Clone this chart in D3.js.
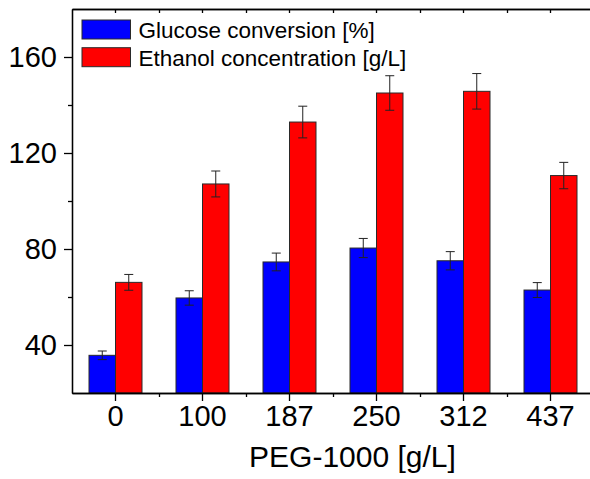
<!DOCTYPE html>
<html lang="en">
<head>
<meta charset="UTF-8">
<title>PEG-1000</title>
<script src="https://cdn.jsdelivr.net/npm/d3@7"></script>
<style>
    body { margin: 0; background: #fff; }
    svg { font-family: "Liberation Sans", Arial, sans-serif; }
</style>
</head>
<body>
<svg width="590" height="479"></svg>
<script>
    // data
    var categories = ["0", "100", "187", "250", "312", "437"];
    var seriesNames = ["Glucose conversion [%]", "Ethanol concentration [g/L]"];
    var glucose = [35.7, 59.6, 74.6, 80.4, 75.1, 62.9];
    var glucoseErr = [1.8, 3.0, 3.7, 4.0, 3.8, 3.1];
    var ethanol = [66.1, 107.1, 132.9, 145.0, 145.7, 110.6];
    var ethanolErr = [3.3, 5.4, 6.6, 7.2, 7.4, 5.5];
    var yMajor = [40, 80, 120, 160];
    var yMinor = [60, 100, 140];
    var colors = ["#0000ff", "#ff0000"];

    var svg = d3.select("svg");
    var plotLeft = 72, plotRight = 594, plotTop = 9, plotBottom = 393;

    var x = d3.scaleBand().domain(categories).range([plotLeft, plotRight]).padding(0);
    var xs = d3.scaleBand().domain([0, 1]).range([-26.5, 26.5]);
    var y = d3.scaleLinear().domain([20, 180]).range([plotBottom, plotTop]);

    var series = [
        {name: seriesNames[0], values: glucose, err: glucoseErr, color: colors[0]},
        {name: seriesNames[1], values: ethanol, err: ethanolErr, color: colors[1]}
    ];

    // bars
    series.forEach(function (s, si) {
        var g = svg.append("g");
        g.selectAll("rect")
            .data(s.values)
            .enter()
            .append("rect")
            .attr("x", function (d, i) { return x(categories[i]) + x.bandwidth() / 2 + xs(si); })
            .attr("y", function (d) { return y(d); })
            .attr("width", xs.bandwidth())
            .attr("height", function (d) { return y(20) - y(d); })
            .attr("fill", s.color)
            .attr("stroke", "#2a2a2a")
            .attr("stroke-width", 1);

        // error bars
        var eb = g.selectAll(".err")
            .data(s.values)
            .enter()
            .append("g")
            .attr("transform", function (d, i) {
                return "translate(" + (x(categories[i]) + x.bandwidth() / 2 + xs(si) + xs.bandwidth() / 2) + ",0)";
            })
            .attr("stroke", "#222")
            .attr("stroke-width", 1);
        eb.append("line")
            .attr("y1", function (d, i) { return y(d + s.err[i]); })
            .attr("y2", function (d, i) { return y(d - s.err[i]); });
        eb.append("line")
            .attr("x1", -4.5).attr("x2", 4.5)
            .attr("y1", function (d, i) { return y(d + s.err[i]); })
            .attr("y2", function (d, i) { return y(d + s.err[i]); });
        eb.append("line")
            .attr("x1", -4.5).attr("x2", 4.5)
            .attr("y1", function (d, i) { return y(d - s.err[i]); })
            .attr("y2", function (d, i) { return y(d - s.err[i]); });
    });

    // left axis
    svg.append("g")
        .attr("transform", "translate(" + plotLeft + ",0)")
        .call(d3.axisLeft(y).tickValues(yMajor).tickSize(8).tickPadding(7).tickSizeOuter(0));
    svg.append("g")
        .attr("transform", "translate(" + plotLeft + ",0)")
        .call(d3.axisLeft(y).tickValues(yMinor).tickSize(4).tickFormat("").tickSizeOuter(0));

    // bottom axis
    svg.append("g")
        .attr("transform", "translate(0," + plotBottom + ")")
        .call(d3.axisBottom(x).tickSize(8).tickPadding(4).tickSizeOuter(0));
    var xMinor = d3.scaleLinear().domain([0, categories.length]).range([plotLeft, plotRight]);
    svg.append("g")
        .attr("transform", "translate(0," + plotBottom + ")")
        .call(d3.axisBottom(xMinor).tickValues(d3.range(1, categories.length)).tickSize(4).tickFormat("").tickSizeOuter(0));

    // top axis, ticks pointing inside
    svg.append("g")
        .attr("transform", "translate(0," + plotTop + ")")
        .call(d3.axisBottom(x).tickSize(4).tickFormat("").tickSizeOuter(0));
    svg.append("g")
        .attr("transform", "translate(0," + plotTop + ")")
        .call(d3.axisBottom(xMinor).tickValues(d3.range(1, categories.length)).tickSize(4).tickFormat("").tickSizeOuter(0));

    svg.selectAll(".domain, .tick line").attr("stroke", "#000").attr("stroke-width", 1.3);
    svg.selectAll(".tick text")
        .attr("font-family", "Liberation Sans, Arial, sans-serif")
        .attr("font-size", 29)
        .attr("fill", "#000");

    // axis title
    svg.append("text")
        .attr("x", (248 + 457) / 2)
        .attr("y", 467)
        .attr("text-anchor", "middle")
        .attr("font-size", 30)
        .text("PEG-1000 [g/L]");

    // legend
    var legend = svg.append("g").attr("transform", "translate(82,20)");
    var li = legend.selectAll("g")
        .data(series)
        .enter()
        .append("g")
        .attr("transform", function (d, i) { return "translate(0," + i * 27.7 + ")"; });
    li.append("rect")
        .attr("width", 48.5)
        .attr("height", 19)
        .attr("fill", function (d) { return d.color; })
        .attr("stroke", "#2a2a2a")
        .attr("stroke-width", 1);
    li.append("text")
        .attr("x", 56.5)
        .attr("y", 18)
        .attr("font-size", 22.5)
        .text(function (d) { return d.name; });
</script>
</body>
</html>
